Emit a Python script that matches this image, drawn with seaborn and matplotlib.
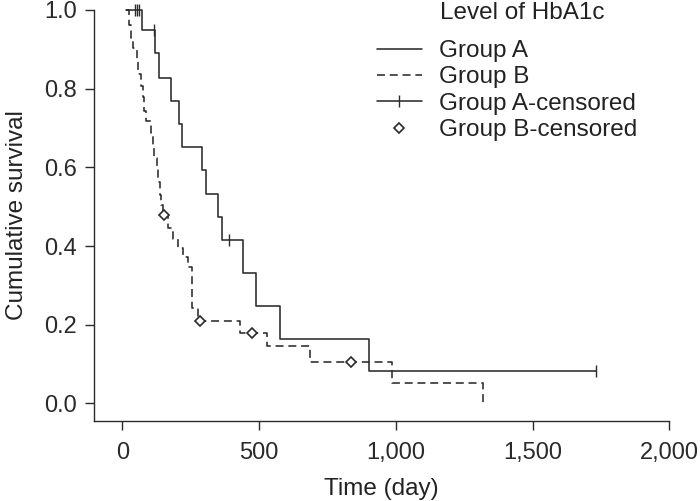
import numpy as np
import pandas as pd
import seaborn as sns
import matplotlib.pyplot as plt
from matplotlib.lines import Line2D

# == Kaplan-Meier steps == #

a_time = [14, 71, 120, 134, 177, 206, 219, 293, 305, 349, 366, 442, 489, 577, 903, 1731]
a_surv = [1.0, 0.949, 0.890, 0.826, 0.769, 0.709, 0.652, 0.593, 0.532, 0.474, 0.415,
          0.331, 0.248, 0.164, 0.082, 0.082]

b_time = [14, 24, 32, 39, 53, 58, 68, 76, 80, 87, 104, 113, 117, 126, 131, 138, 141,
          150, 167, 185, 204, 222, 240, 253, 256, 278, 430, 528, 687, 985, 1320]
b_surv = [1.0, 0.962, 0.929, 0.904, 0.873, 0.837, 0.807, 0.779, 0.743, 0.718, 0.687,
          0.657, 0.624, 0.593, 0.563, 0.530, 0.504, 0.479, 0.446, 0.419, 0.396, 0.372,
          0.346, 0.319, 0.242, 0.210, 0.178, 0.146, 0.106, 0.052, 0.0]

a_cens_time = [45, 54, 62, 115, 390, 1731]
a_cens_surv = [1.0, 1.0, 1.0, 0.949, 0.415, 0.082]

b_cens_time = [153, 284, 473, 835]
b_cens_surv = [0.479, 0.210, 0.178, 0.106]

x_ticks = [0, 500, 1000, 1500, 2000]
x_labels = ['0', '500', '1,000', '1,500', '2,000']
y_ticks = [0.0, 0.2, 0.4, 0.6, 0.8, 1.0]

df = pd.concat([
    pd.DataFrame({'time': a_time, 'surv': a_surv, 'group': 'Group A'}),
    pd.DataFrame({'time': b_time, 'surv': b_surv, 'group': 'Group B'}),
])

INK = '#2a2a2a'

sns.set_style('ticks')
plt.rcParams['font.family'] = ['Liberation Sans', 'DejaVu Sans']
plt.rcParams['text.color'] = '#222222'
plt.rcParams['axes.labelcolor'] = '#222222'
plt.rcParams['xtick.color'] = INK
plt.rcParams['ytick.color'] = INK

fig = plt.figure(figsize=(7, 5.01), dpi=100)
ax = fig.add_axes([94 / 700, 1 - 420.7 / 501, (669.3 - 94) / 700, (420.7 - 10) / 501])

sns.lineplot(data=df, x='time', y='surv', style='group',
             dashes={'Group A': '', 'Group B': (5, 3)},
             color=INK, lw=1.15, estimator=None, sort=False,
             drawstyle='steps-post', legend=False, clip_on=False, ax=ax)

ax.plot(a_cens_time, a_cens_surv, ls='none', marker='|', ms=8.5, mew=1.0,
        color=INK, clip_on=False)
ax.plot(b_cens_time, b_cens_surv, ls='none', marker='D', ms=5, mew=1.2,
        mfc='white', mec=INK, clip_on=False)

ax.set_xlim(-103.5, 2000)
ax.set_ylim(-0.044, 1.0)
ax.set_xticks(x_ticks)
ax.set_xticklabels(x_labels)
ax.set_yticks(y_ticks)
ax.set_yticklabels([f'{v:.1f}' for v in y_ticks])
ax.tick_params(labelsize=17, length=6.5, width=1.0, pad=6)
ax.tick_params(axis='x', pad=9)
for s in ['left', 'bottom']:
    ax.spines[s].set_color(INK)
    ax.spines[s].set_linewidth(1.0)
sns.despine(ax=ax)

ax.set_xlabel('Time (day)', fontsize=17.5, labelpad=10)
ax.set_ylabel('Cumulative survival', fontsize=17.5, labelpad=11)

# -- legend, title set as plain text so it lines up with the labels
handles = [
    Line2D([], [], color=INK, lw=1.15),
    Line2D([], [], color=INK, lw=1.15, dashes=(5, 3)),
    Line2D([], [], color=INK, lw=1.15, marker='|', ms=8.5, mew=1.0),
    Line2D([], [], ls='none', marker='D', ms=5, mew=1.2, mfc='white', mec=INK),
]
labels = ['Group A', 'Group B', 'Group A-censored', 'Group B-censored']
fig.legend(handles, labels, loc='upper left', bbox_to_anchor=(377 / 700, 1 - 40 / 501),
           frameon=False, fontsize=17.5, handlelength=1.85, handletextpad=0.7,
           labelspacing=0.18, borderpad=0, borderaxespad=0)
fig.text(440 / 700, 1 - 13 / 501, 'Level of HbA1c', fontsize=17.5, va='center', ha='left')

fig.savefig('out.png', dpi=100)
